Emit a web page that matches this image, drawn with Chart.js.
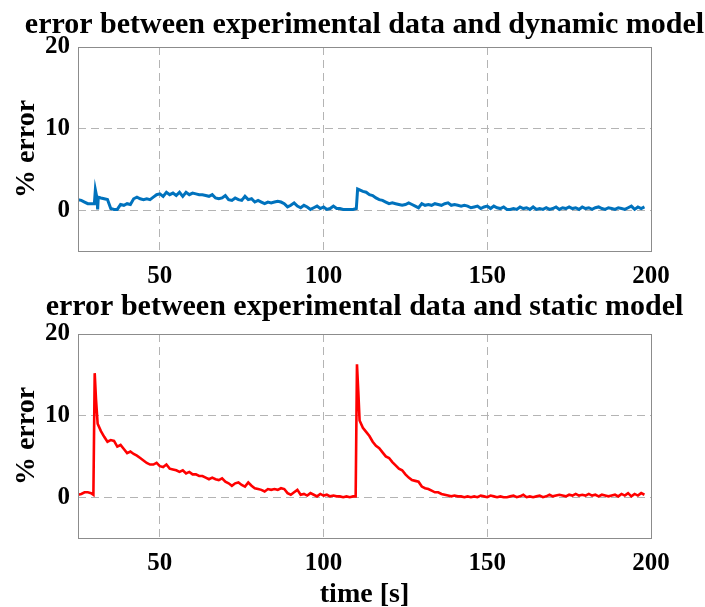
<!DOCTYPE html>
<html>
<head>
<meta charset="utf-8">
<script src="https://cdn.jsdelivr.net/npm/chart.js@4/dist/chart.umd.min.js"></script>
<style>
  body { margin: 0; background: #fff; overflow: hidden; }
  canvas { display: block; }
</style>
</head>
<body>
<canvas id="dyn" width="705" height="290"></canvas>
<canvas id="stat" width="705" height="317"></canvas>
<script>
// x ticks / y ticks
const xTicks = [50, 100, 150, 200];
const yTicks = [0, 10, 20];

// error vs dynamic model
const timeDyn = [25, 26, 27, 28, 29, 30, 30.3, 30.8, 31, 31.2, 32, 33, 34, 35, 36, 37, 38, 39, 40,
  41, 42, 43, 44, 45, 46, 47, 48, 49, 50, 51, 52, 53, 54, 55, 56, 57, 58, 59, 60,
  61, 62, 63, 64, 65, 66, 67, 68, 69, 70, 71, 72, 73, 74, 75, 76, 77, 78, 79, 80,
  81, 82, 83, 84, 85, 86, 87, 88, 89, 90, 91, 92, 93, 94, 95, 96, 97, 98, 99, 100,
  101, 102, 103, 104, 105, 106, 107, 108, 109, 110, 110.4, 111, 112, 113, 114, 115, 116, 117, 118, 119, 120,
  121, 122, 123, 124, 125, 126, 127, 128, 129, 130, 131, 132, 133, 134, 135, 136, 137, 138, 139, 140,
  141, 142, 143, 144, 145, 146, 147, 148, 149, 150, 151, 152, 153, 154, 155, 156, 157, 158, 159, 160,
  161, 162, 163, 164, 165, 166, 167, 168, 169, 170, 171, 172, 173, 174, 175, 176, 177, 178, 179, 180,
  181, 182, 183, 184, 185, 186, 187, 188, 189, 190, 191, 192, 193, 194, 195, 196, 197, 198];
const errDyn = [1.3, 1.2, 1.0, 0.8, 0.8, 0.8, 2.5, 1.5, 0.1, 1.6, 1.5, 1.4, 1.3, 0.2, 0.1, 0.1, 0.7, 0.6, 0.8,
  0.7, 1.4, 1.6, 1.4, 1.3, 1.4, 1.3, 1.6, 1.9, 2.0, 1.7, 2.2, 1.9, 2.1, 1.8, 2.2, 1.7, 2.2, 1.9, 2.1,
  2.0, 1.9, 1.9, 1.8, 1.7, 1.9, 1.5, 1.4, 1.5, 1.8, 1.3, 1.2, 1.5, 1.3, 1.2, 1.7, 1.3, 1.4, 1.0, 1.2,
  1.0, 0.8, 1.0, 0.9, 1.0, 1.1, 1.0, 0.8, 0.4, 0.6, 0.9, 0.5, 0.3, 0.6, 0.4, 0.1, 0.3, 0.5, 0.2, 0.4,
  0.1, 0.2, 0.5, 0.2, 0.2, 0.1, 0.1, 0.1, 0.1, 0.2, 2.6, 2.5, 2.3, 2.2, 1.9, 1.8, 1.5, 1.3, 1.2, 1.0, 0.8,
  0.9, 0.8, 0.7, 0.6, 0.7, 0.9, 0.7, 0.5, 0.3, 0.8, 0.6, 0.7, 0.6, 0.8, 0.7, 0.6, 0.8, 0.9, 0.6, 0.7,
  0.6, 0.5, 0.6, 0.5, 0.3, 0.4, 0.5, 0.2, 0.4, 0.5, 0.2, 0.5, 0.3, 0.2, 0.4, 0.1, 0.1, 0.2, 0.1, 0.4,
  0.2, 0.3, 0.1, 0.4, 0.1, 0.2, 0.1, 0.3, 0.1, 0.2, 0.4, 0.1, 0.3, 0.2, 0.4, 0.2, 0.3, 0.1, 0.4, 0.2,
  0.3, 0.1, 0.3, 0.4, 0.2, 0.1, 0.3, 0.2, 0.1, 0.3, 0.2, 0.1, 0.3, 0.5, 0.1, 0.4, 0.2, 0.4];

// error vs static model
const timeStat = [25, 26, 27, 28, 29, 29.7, 30.1, 30.5, 31, 32, 33, 34, 35, 36, 37, 38, 39, 40,
  41, 42, 43, 44, 45, 46, 47, 48, 49, 50, 51, 52, 53, 54, 55, 56, 57, 58, 59, 60,
  61, 62, 63, 64, 65, 66, 67, 68, 69, 70, 71, 72, 73, 74, 75, 76, 77, 78, 79, 80,
  81, 82, 83, 84, 85, 86, 87, 88, 89, 90, 91, 92, 93, 94, 95, 96, 97, 98, 99, 100,
  101, 102, 103, 104, 105, 106, 107, 108, 109, 109.8, 110.2, 110.6, 111, 112, 113, 114, 115, 116, 117, 118, 119, 120,
  121, 122, 123, 124, 125, 126, 127, 128, 129, 130, 131, 132, 133, 134, 135, 136, 137, 138, 139, 140,
  141, 142, 143, 144, 145, 146, 147, 148, 149, 150, 151, 152, 153, 154, 155, 156, 157, 158, 159, 160,
  161, 162, 163, 164, 165, 166, 167, 168, 169, 170, 171, 172, 173, 174, 175, 176, 177, 178, 179, 180,
  181, 182, 183, 184, 185, 186, 187, 188, 189, 190, 191, 192, 193, 194, 195, 196, 197, 198];
const errStat = [0.3, 0.4, 0.6, 0.6, 0.5, 0.3, 15.2, 12.0, 9.0, 8.1, 7.4, 6.8, 7.0, 6.9, 6.2, 6.4, 5.9, 5.4,
  5.6, 5.3, 5.1, 4.8, 4.5, 4.2, 4.0, 4.0, 4.2, 3.8, 3.7, 4.0, 3.5, 3.4, 3.3, 3.1, 3.3, 2.9, 3.1, 2.8,
  2.8, 2.6, 2.6, 2.4, 2.2, 2.4, 2.2, 2.1, 2.3, 1.9, 1.7, 1.4, 1.7, 1.8, 1.5, 1.3, 1.8, 1.4, 1.1, 1.0,
  0.9, 0.7, 1.0, 0.9, 1.0, 0.9, 1.1, 1.0, 0.5, 0.3, 0.6, 0.9, 0.3, 0.4, 0.2, 0.5, 0.3, 0.1, 0.4, 0.2,
  0.3, 0.1, 0.2, 0.1, 0.1, 0.0, 0.1, 0.0, 0.1, 0.1, 16.3, 13.0, 9.4, 8.5, 8.0, 7.5, 6.8, 6.3, 6.0, 5.5, 5.0, 4.8,
  4.3, 3.9, 3.5, 3.3, 2.8, 2.4, 2.1, 2.0, 1.9, 1.3, 1.1, 1.0, 0.8, 0.6, 0.6, 0.4, 0.3, 0.2, 0.1, 0.2,
  0.1, 0.1, 0.0, 0.1, 0.0, 0.1, 0.0, 0.2, 0.1, 0.0, 0.2, 0.1, 0.0, 0.1, 0.0, 0.0, 0.1, 0.2, 0.0, 0.1,
  0.3, 0.0, 0.1, 0.0, 0.1, 0.2, 0.0, 0.1, 0.3, 0.1, 0.2, 0.3, 0.2, 0.1, 0.3, 0.2, 0.4, 0.2, 0.3, 0.2,
  0.4, 0.2, 0.3, 0.1, 0.3, 0.2, 0.1, 0.2, 0.3, 0.1, 0.4, 0.2, 0.5, 0.1, 0.4, 0.2, 0.5, 0.3];

const FONT = "'Liberation Serif', 'Times New Roman', serif";
const GRID = "#b4b4b4";

// grey box round the plot area, like matlab's "box on"
const frame = {
  id: "frame",
  afterDraw(chart) {
    const a = chart.chartArea;
    const ctx = chart.ctx;
    ctx.save();
    ctx.strokeStyle = "#8c8c8c";
    ctx.lineWidth = 1;
    ctx.strokeRect(Math.round(a.left) + 0.5, Math.round(a.top) + 0.5,
      Math.round(a.right - a.left), Math.round(a.bottom - a.top));
    ctx.restore();
  }
};

// title centred over the plot box (the builtin one centres on the canvas)
const boxTitle = {
  id: "boxTitle",
  afterDraw(chart, args, opts) {
    const a = chart.chartArea;
    const ctx = chart.ctx;
    ctx.save();
    ctx.font = "bold 30px " + FONT;
    ctx.fillStyle = "#000";
    ctx.textAlign = "center";
    ctx.textBaseline = "alphabetic";
    ctx.fillText(opts.text, (a.left + a.right) / 2, opts.baseline);
    ctx.restore();
  }
};

function makeChart(id, t, err, color, lw, title, baseline, top, xHeight, xTitle) {
  const points = t.map((x, i) => ({ x: x, y: err[i] }));
  return new Chart(document.getElementById(id), {
    type: "line",
    data: {
      datasets: [{
        data: points,
        borderColor: color,
        borderWidth: lw,
        pointRadius: 0,
        tension: 0,
        fill: false
      }]
    },
    options: {
      responsive: false,
      animation: false,
      devicePixelRatio: 1,
      layout: { padding: { left: 0, right: 54, top: top, bottom: 0 } },
      plugins: {
        legend: { display: false },
        tooltip: { enabled: false },
        title: { display: false },
        boxTitle: { text: title, baseline: baseline }
      },
      scales: {
        x: {
          type: "linear",
          min: 25,
          max: 200,
          afterBuildTicks: (s) => { s.ticks = xTicks.map(v => ({ value: v })); },
          afterFit: (s) => { s.height = xHeight; },
          ticks: { color: "#000", padding: 11, font: { family: FONT, size: 25, weight: "bold" } },
          grid: { color: GRID, lineWidth: 1, drawTicks: false },
          border: { display: false, dash: [8, 5] },
          title: {
            display: !!xTitle,
            text: xTitle || "",
            color: "#000",
            font: { family: FONT, size: 28, weight: "bold", lineHeight: 0.9 },
            padding: 0
          }
        },
        y: {
          min: -5,
          max: 20,
          afterBuildTicks: (s) => { s.ticks = yTicks.map(v => ({ value: v })); },
          afterFit: (s) => { s.width = 78; },
          ticks: { color: "#000", padding: 8, font: { family: FONT, size: 25, weight: "bold" } },
          grid: { color: GRID, lineWidth: 1, drawTicks: false },
          border: { display: false, dash: [8, 5] },
          title: {
            display: true,
            text: "% error",
            color: "#000",
            font: { family: FONT, size: 28, weight: "bold" },
            padding: { top: 10, bottom: 0 }
          }
        }
      }
    },
    plugins: [frame, boxTitle]
  });
}

makeChart("dyn", timeDyn, errDyn, "#0072BD", 3,
  "error between experimental data and dynamic model", 33, 47, 39, null);
makeChart("stat", timeStat, errStat, "#FF0000", 2.6,
  "error between experimental data and static model", 25, 44, 69, "time [s]");
</script>
</body>
</html>
